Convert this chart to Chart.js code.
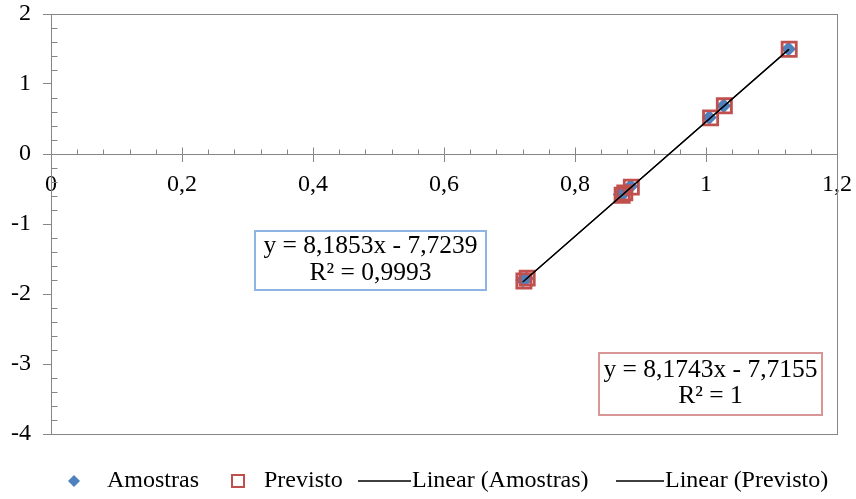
<!DOCTYPE html>
<html>
<head>
<meta charset="utf-8">
<script src="https://cdn.jsdelivr.net/npm/chart.js@4/dist/chart.umd.min.js"></script>
<style>
  html, body { margin: 0; padding: 0; background: #fff; }
  #wrap { width: 856px; height: 499px; position: relative; }
</style>
</head>
<body>
<div id="wrap"><canvas id="c" width="856" height="499"></canvas></div>
<script>
// Measured samples and model predictions
const amostrasX = [0.720, 0.726, 0.869, 0.874, 0.885, 1.005, 1.027, 1.126];
const amostrasY = [-1.80, -1.78, -0.58, -0.56, -0.46, 0.52, 0.69, 1.50];
const previstoX = [0.722, 0.727, 0.872, 0.876, 0.886, 1.007, 1.028, 1.127];
const previstoY = [-1.814, -1.773, -0.588, -0.555, -0.473, 0.516, 0.688, 1.497];

// Linear trend lines: [slope, intercept]
const fitAmostras = [8.1853, -7.7239];
const fitPrevisto = [8.1743, -7.7155];

const xTicks = [0, 0.2, 0.4, 0.6, 0.8, 1, 1.2];
const yTicks = [-4, -3, -2, -1, 0, 1, 2];
const seriesNames = ['Amostras', 'Previsto', 'Linear (Amostras)', 'Linear (Previsto)'];
const eqAmostras = ['y = 8,1853x - 7,7239', 'R² = 0,9993'];
const eqPrevisto = ['y = 8,1743x - 7,7155', 'R² = 1'];

const FONT = "'Liberation Serif', 'Times New Roman', serif";
const AXIS = '#868686';
const BLUE = '#4f81bd';
const RED = '#c0504d';

const toPoints = (xs, ys) => xs.map((v, i) => ({ x: v, y: ys[i] }));
const trend = (xs, fit) => {
  const lo = Math.min(...xs), hi = Math.max(...xs);
  return [{ x: lo, y: fit[0] * lo + fit[1] }, { x: hi, y: fit[0] * hi + fit[1] }];
};
const fmt = v => String(v).replace('.', ',');

// Frame around the plot, minor ticks, and the upper half of the crossing x ticks
const axisDecor = {
  id: 'axisDecor',
  beforeDatasetsDraw(chart) {
    const { ctx, chartArea: a, scales: { x, y } } = chart;
    ctx.save();
    ctx.strokeStyle = AXIS;
    ctx.lineWidth = 1;
    ctx.strokeRect(Math.round(a.left) + 0.5, Math.round(a.top) + 0.5,
                   Math.round(a.right - a.left), Math.round(a.bottom - a.top));
    const y0 = Math.round(y.getPixelForValue(0)) + 0.5;
    const x0 = Math.round(a.left) + 0.5;
    ctx.beginPath();
    for (let i = 1; i < 30; i++) {
      if (i % 5 === 0) continue;
      const px = Math.round(x.getPixelForValue(i * 0.04)) + 0.5;
      ctx.moveTo(px, y0); ctx.lineTo(px, y0 - 5);
    }
    xTicks.forEach(v => {
      const px = Math.round(x.getPixelForValue(v)) + 0.5;
      ctx.moveTo(px, y0); ctx.lineTo(px, y0 - 7);
    });
    for (let i = 1; i < 30; i++) {
      if (i % 5 === 0) continue;
      const py = Math.round(y.getPixelForValue(-4 + i * 0.2)) + 0.5;
      ctx.moveTo(x0, py); ctx.lineTo(x0 + 6, py);
    }
    ctx.stroke();
    ctx.restore();
  }
};

// Trend-line equation boxes and the legend row
const labelsAndLegend = {
  id: 'labelsAndLegend',
  afterDraw(chart) {
    const { ctx } = chart;
    ctx.save();
    const box = (l, t, r, b, stroke, lines, c1, c2) => {
      ctx.fillStyle = '#fff';
      ctx.fillRect(l, t, r - l, b - t);
      ctx.strokeStyle = stroke;
      ctx.lineWidth = 2;
      ctx.strokeRect(l, t, r - l, b - t);
      ctx.fillStyle = '#000';
      ctx.font = `25.5px ${FONT}`;
      ctx.textAlign = 'center';
      ctx.textBaseline = 'middle';
      const cx = (l + r) / 2;
      ctx.fillText(lines[0], cx, c1);
      ctx.fillText(lines[1], cx, c2);
    };
    box(255, 231, 486, 290, '#8eb4e3', eqAmostras, 246, 273);
    box(599, 353, 822, 415, '#d99694', eqPrevisto, 370, 396);

    const ly = 481;
    ctx.font = `24px ${FONT}`;
    ctx.textAlign = 'left';
    ctx.textBaseline = 'middle';
    // diamond marker
    ctx.fillStyle = BLUE;
    ctx.beginPath();
    ctx.moveTo(74, ly - 6); ctx.lineTo(80, ly); ctx.lineTo(74, ly + 6); ctx.lineTo(68, ly);
    ctx.closePath(); ctx.fill();
    ctx.fillStyle = '#000';
    ctx.fillText(seriesNames[0], 107, ly);
    // hollow square marker
    ctx.strokeStyle = RED; ctx.lineWidth = 2;
    ctx.strokeRect(232, ly - 6, 12, 12);
    ctx.fillText(seriesNames[1], 264, ly);
    // trend line swatches
    ctx.strokeStyle = '#000'; ctx.lineWidth = 1.3;
    ctx.beginPath();
    ctx.moveTo(358, ly); ctx.lineTo(411, ly);
    ctx.moveTo(616, ly); ctx.lineTo(664, ly);
    ctx.stroke();
    ctx.fillText(seriesNames[2], 412, ly);
    ctx.fillText(seriesNames[3], 665, ly);
    ctx.restore();
  }
};

new Chart(document.getElementById('c'), {
  type: 'scatter',
  data: {
    datasets: [
      { label: seriesNames[2], data: trend(amostrasX, fitAmostras), showLine: true,
        borderColor: '#000', borderWidth: 1.3, pointRadius: 0, order: 0 },
      { label: seriesNames[3], data: trend(previstoX, fitPrevisto), showLine: true,
        borderColor: '#000', borderWidth: 1.3, pointRadius: 0, order: 0 },
      { label: seriesNames[1], data: toPoints(previstoX, previstoY), pointStyle: 'rect',
        pointRadius: 10, borderColor: RED, borderWidth: 2.8,
        backgroundColor: 'rgba(0,0,0,0)', order: 1 },
      { label: seriesNames[0], data: toPoints(amostrasX, amostrasY), pointStyle: 'rectRot',
        pointRadius: 7.5, borderWidth: 0, borderColor: BLUE, backgroundColor: BLUE, order: 2 }
    ]
  },
  options: {
    responsive: false,
    animation: false,
    layout: { padding: { top: 14, right: 19, bottom: 65, left: 0 } },
    plugins: { legend: { display: false }, tooltip: { enabled: false } },
    scales: {
      x: {
        type: 'linear', min: 0, max: 1.2, position: { y: 0 },
        afterBuildTicks: s => { s.ticks = xTicks.map(v => ({ value: v })); },
        afterFit: s => { s.paddingLeft = 0; s.paddingRight = 0; s.paddingTop = 0; s.paddingBottom = 0; },
        ticks: { callback: v => fmt(v), font: { family: FONT, size: 24 }, color: '#000',
                 padding: 9, maxRotation: 0, autoSkip: false },
        grid: { drawOnChartArea: false, color: AXIS, tickLength: 7, lineWidth: 1 },
        border: { color: AXIS, width: 1 }
      },
      y: {
        type: 'linear', min: -4, max: 2,
        afterBuildTicks: s => { s.ticks = yTicks.map(v => ({ value: v })); },
        afterFit: s => { s.width = 51; s.paddingTop = 0; s.paddingBottom = 0; },
        ticks: { callback: v => fmt(v), font: { family: FONT, size: 24 }, color: '#000',
                 padding: 12, autoSkip: false },
        grid: { drawOnChartArea: false, color: AXIS, tickLength: 8, lineWidth: 1 },
        border: { color: AXIS, width: 1 }
      }
    }
  },
  plugins: [axisDecor, labelsAndLegend]
});
</script>
</body>
</html>
